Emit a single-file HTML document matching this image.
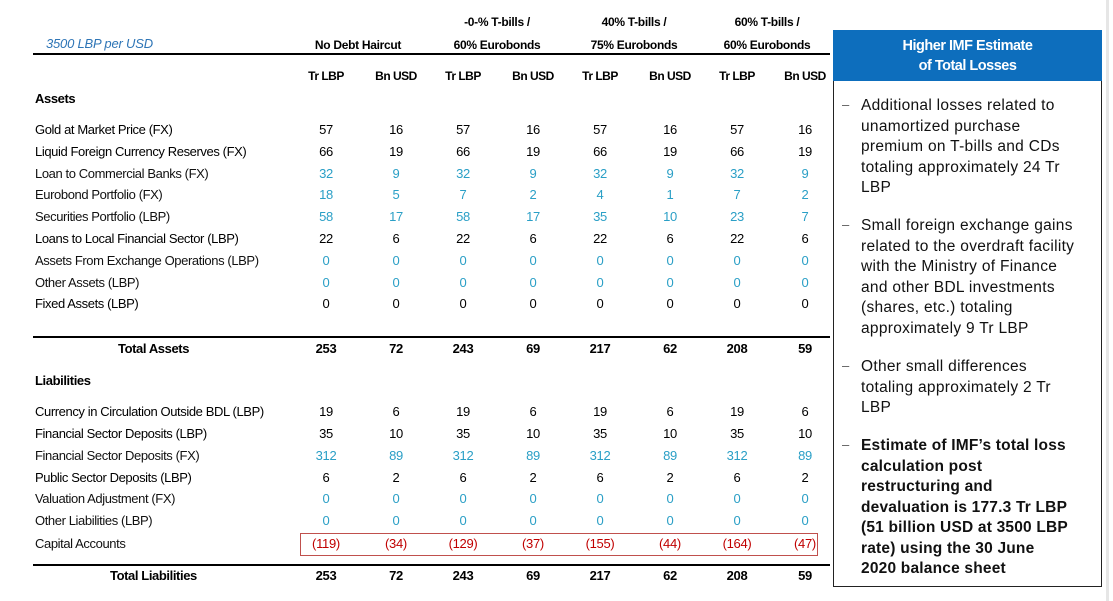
<!DOCTYPE html>
<html><head><meta charset="utf-8"><style>
body{margin:0;width:1113px;height:601px;background:#fff;position:relative;overflow:hidden;font-family:"Liberation Sans",Arial,sans-serif;}
.t{position:absolute;font-size:12.5px;letter-spacing:-0.4px;color:#111;white-space:nowrap;line-height:16px}
.r{position:absolute;left:0;width:830px;height:16px}
.r span{position:absolute;width:50px;text-align:center;font-size:13px;letter-spacing:-0.3px;line-height:16px;top:0;white-space:nowrap}
.r .l{left:35px;width:auto;text-align:left;letter-spacing:-0.4px}
.a{left:301px}.b{left:371px}.c{left:438px}.d{left:508px}.e{left:575px}.f{left:645px}.g{left:712px}.h{left:780px}
.bl span{color:#2a9fc6}.bl .l{color:#111}
.rd span{color:#c00000}.rd .l{color:#111}
.bd span{font-weight:bold}
.hdr span{font-size:12px;letter-spacing:-0.5px}
.hd{position:absolute;font-size:12px;font-weight:bold;text-align:center;width:140px;letter-spacing:-0.3px;line-height:16px}
.line{position:absolute;height:1.5px;background:#000;left:33px;width:797px}
.rt{position:absolute;left:861px;white-space:nowrap;font-size:15.5px;letter-spacing:0.3px;line-height:20.5px;color:#111;font-family:"Liberation Sans",Arial,sans-serif}
.dash{position:absolute;left:842px;font-size:13px;color:#555}
</style></head><body>
<div class="t" style="left:46px;top:36px;color:#2e75b6;font-style:italic;font-size:13px;letter-spacing:-0.2px">3500 LBP per USD</div>
<div class="hd" style="left:288px;top:37px">No Debt Haircut</div>
<div class="hd" style="left:427px;top:14px">-0-% T-bills /</div>
<div class="hd" style="left:427px;top:37px">60% Eurobonds</div>
<div class="hd" style="left:564px;top:14px">40% T-bills /</div>
<div class="hd" style="left:564px;top:37px">75% Eurobonds</div>
<div class="hd" style="left:697px;top:14px">60% T-bills /</div>
<div class="hd" style="left:697px;top:37px">60% Eurobonds</div>
<div class="line" style="top:53px"></div>
<div class="r bd hdr" style="top:68px"><span class="a">Tr LBP</span><span class="b">Bn USD</span><span class="c">Tr LBP</span><span class="d">Bn USD</span><span class="e">Tr LBP</span><span class="f">Bn USD</span><span class="g">Tr LBP</span><span class="h">Bn USD</span></div>
<div class="r bd" style="top:91px"><span class="l">Assets</span></div>
<div class="r" style="top:122px"><span class="l">Gold at Market Price (FX)</span><span class="a">57</span><span class="b">16</span><span class="c">57</span><span class="d">16</span><span class="e">57</span><span class="f">16</span><span class="g">57</span><span class="h">16</span></div>
<div class="r" style="top:144px"><span class="l">Liquid Foreign Currency Reserves (FX)</span><span class="a">66</span><span class="b">19</span><span class="c">66</span><span class="d">19</span><span class="e">66</span><span class="f">19</span><span class="g">66</span><span class="h">19</span></div>
<div class="r bl" style="top:166px"><span class="l">Loan to Commercial Banks (FX)</span><span class="a">32</span><span class="b">9</span><span class="c">32</span><span class="d">9</span><span class="e">32</span><span class="f">9</span><span class="g">32</span><span class="h">9</span></div>
<div class="r bl" style="top:187px"><span class="l">Eurobond Portfolio (FX)</span><span class="a">18</span><span class="b">5</span><span class="c">7</span><span class="d">2</span><span class="e">4</span><span class="f">1</span><span class="g">7</span><span class="h">2</span></div>
<div class="r bl" style="top:209px"><span class="l">Securities Portfolio (LBP)</span><span class="a">58</span><span class="b">17</span><span class="c">58</span><span class="d">17</span><span class="e">35</span><span class="f">10</span><span class="g">23</span><span class="h">7</span></div>
<div class="r" style="top:231px"><span class="l">Loans to Local Financial Sector (LBP)</span><span class="a">22</span><span class="b">6</span><span class="c">22</span><span class="d">6</span><span class="e">22</span><span class="f">6</span><span class="g">22</span><span class="h">6</span></div>
<div class="r bl" style="top:253px"><span class="l">Assets From Exchange Operations (LBP)</span><span class="a">0</span><span class="b">0</span><span class="c">0</span><span class="d">0</span><span class="e">0</span><span class="f">0</span><span class="g">0</span><span class="h">0</span></div>
<div class="r bl" style="top:275px"><span class="l">Other Assets (LBP)</span><span class="a">0</span><span class="b">0</span><span class="c">0</span><span class="d">0</span><span class="e">0</span><span class="f">0</span><span class="g">0</span><span class="h">0</span></div>
<div class="r" style="top:296px"><span class="l">Fixed Assets (LBP)</span><span class="a">0</span><span class="b">0</span><span class="c">0</span><span class="d">0</span><span class="e">0</span><span class="f">0</span><span class="g">0</span><span class="h">0</span></div>
<div class="line" style="top:336px"></div>
<div class="r bd" style="top:341px"><span class="l" style="left:118px">Total Assets</span><span class="a">253</span><span class="b">72</span><span class="c">243</span><span class="d">69</span><span class="e">217</span><span class="f">62</span><span class="g">208</span><span class="h">59</span></div>
<div class="r bd" style="top:373px"><span class="l">Liabilities</span></div>
<div class="r" style="top:404px"><span class="l">Currency in Circulation Outside BDL (LBP)</span><span class="a">19</span><span class="b">6</span><span class="c">19</span><span class="d">6</span><span class="e">19</span><span class="f">6</span><span class="g">19</span><span class="h">6</span></div>
<div class="r" style="top:426px"><span class="l">Financial Sector Deposits (LBP)</span><span class="a">35</span><span class="b">10</span><span class="c">35</span><span class="d">10</span><span class="e">35</span><span class="f">10</span><span class="g">35</span><span class="h">10</span></div>
<div class="r bl" style="top:448px"><span class="l">Financial Sector Deposits (FX)</span><span class="a">312</span><span class="b">89</span><span class="c">312</span><span class="d">89</span><span class="e">312</span><span class="f">89</span><span class="g">312</span><span class="h">89</span></div>
<div class="r" style="top:470px"><span class="l">Public Sector Deposits (LBP)</span><span class="a">6</span><span class="b">2</span><span class="c">6</span><span class="d">2</span><span class="e">6</span><span class="f">2</span><span class="g">6</span><span class="h">2</span></div>
<div class="r bl" style="top:491px"><span class="l">Valuation Adjustment (FX)</span><span class="a">0</span><span class="b">0</span><span class="c">0</span><span class="d">0</span><span class="e">0</span><span class="f">0</span><span class="g">0</span><span class="h">0</span></div>
<div class="r bl" style="top:513px"><span class="l">Other Liabilities (LBP)</span><span class="a">0</span><span class="b">0</span><span class="c">0</span><span class="d">0</span><span class="e">0</span><span class="f">0</span><span class="g">0</span><span class="h">0</span></div>
<div class="r rd" style="top:536px"><span class="l">Capital Accounts</span><span class="a">(119)</span><span class="b">(34)</span><span class="c">(129)</span><span class="d">(37)</span><span class="e">(155)</span><span class="f">(44)</span><span class="g">(164)</span><span class="h">(47)</span></div>
<div style="position:absolute;left:300px;top:533px;width:518px;height:23px;border:1px solid #c0504d;box-sizing:border-box"></div>
<div class="line" style="top:564px"></div>
<div class="r bd" style="top:568px"><span class="l" style="left:110px">Total Liabilities</span><span class="a">253</span><span class="b">72</span><span class="c">243</span><span class="d">69</span><span class="e">217</span><span class="f">62</span><span class="g">208</span><span class="h">59</span></div>

<div style="position:absolute;left:1106px;top:0;width:3px;height:601px;background:#e6e6e6"></div>
<div style="position:absolute;left:833px;top:30px;width:269px;height:51px;background:#0d6ebd;color:#fff;font-weight:bold;font-size:14.5px;text-align:center;line-height:20px;padding-top:6px;box-sizing:border-box;letter-spacing:-0.5px">Higher IMF Estimate<br>of Total Losses</div>
<div style="position:absolute;left:833px;top:81px;width:269px;height:506px;border:1px solid #222;border-top:none;box-sizing:border-box"></div>
<div class="dash" style="top:97px">–</div>
<div class="rt" style="top:96px">Additional losses related to<br>unamortized purchase<br>premium on T-bills and CDs<br>totaling approximately 24 Tr<br>LBP</div>
<div class="dash" style="top:217px">–</div>
<div class="rt" style="top:216px">Small foreign exchange gains<br>related to the overdraft facility<br>with the Ministry of Finance<br>and other BDL investments<br>(shares, etc.) totaling<br>approximately 9 Tr LBP</div>
<div class="dash" style="top:358px">–</div>
<div class="rt" style="top:357px">Other small differences<br>totaling approximately 2 Tr<br>LBP</div>
<div class="dash" style="top:437px">–</div>
<div class="rt" style="top:436px;font-weight:bold;letter-spacing:0.2px">Estimate of IMF’s total loss<br>calculation post<br>restructuring and<br>devaluation is 177.3 Tr LBP<br>(51 billion USD at 3500 LBP<br>rate) using the 30 June<br>2020 balance sheet</div>
</body></html>
